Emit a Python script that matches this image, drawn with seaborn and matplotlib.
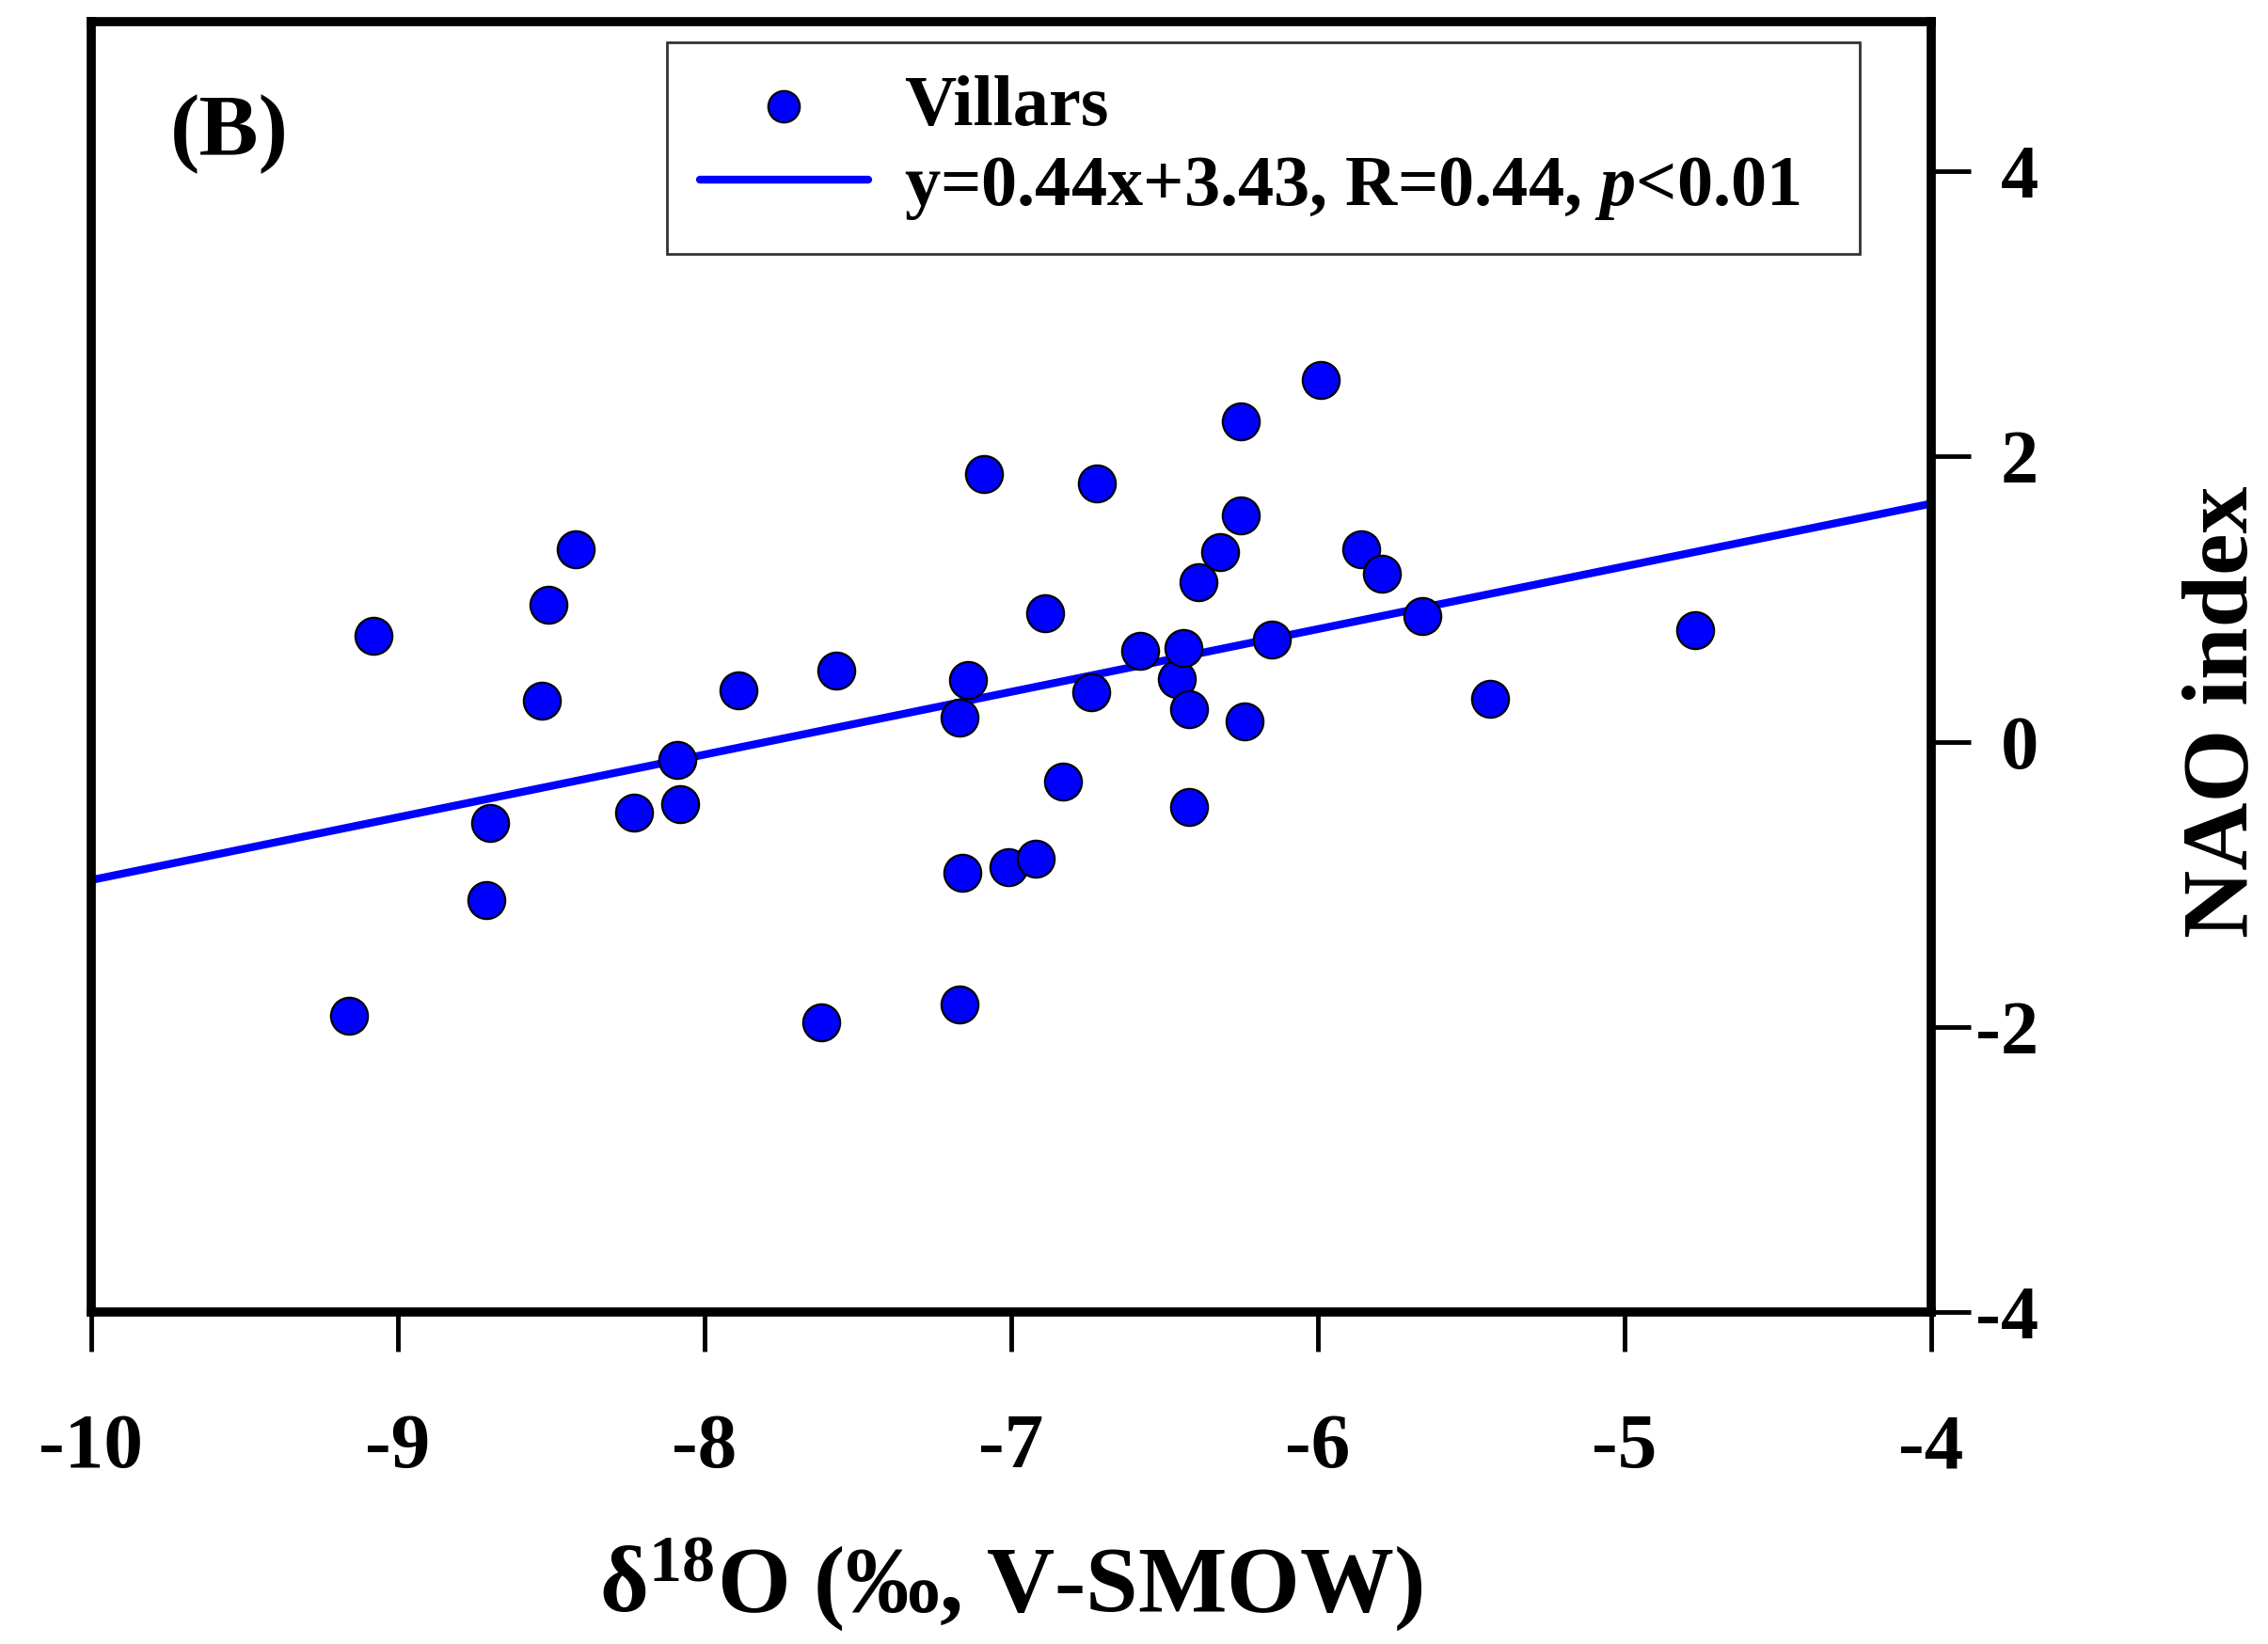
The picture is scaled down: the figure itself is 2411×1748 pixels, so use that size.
import numpy as np
import pandas as pd
import matplotlib
matplotlib.use("Agg")
import matplotlib.pyplot as plt
import seaborn as sns

# ---- data ----
d18O = [-9.16, -9.08, -8.70, -8.71, -8.53, -8.51, -8.42, -8.23, -8.09, -8.08,
        -7.89, -7.62, -7.57, -7.17, -7.17, -7.14, -7.16, -7.09, -7.01, -6.92,
        -6.89, -6.83, -6.74, -6.72, -6.58, -6.46, -6.44, -6.42, -6.42, -6.39,
        -6.32, -6.25, -6.25, -6.24, -6.15, -5.99, -5.86, -5.79, -5.66, -5.44,
        -4.77]
nao = [-1.92, 0.74, -0.57, -1.11, 0.29, 0.96, 1.35, -0.50, -0.13, -0.44,
       0.36, -1.97, 0.50, -1.84, 0.17, 0.43, -0.92, 1.88, -0.88, -0.82,
       0.90, -0.28, 0.35, 1.81, 0.64, 0.44, 0.66, 0.23, -0.46, 1.12,
       1.33, 2.25, 1.59, 0.14, 0.72, 2.54, 1.35, 1.18, 0.88, 0.30,
       0.78]
fit_slope = 0.44
fit_intercept = 3.43
fit_x = [-10, -4]
x_ticks = [-10, -9, -8, -7, -6, -5, -4]
y_ticks = [-4, -2, 0, 2, 4]
series_label = "Villars"
fit_label = "y=0.44x+3.43, R=0.44, $p$<0.01"
panel_label = "(B)"

sns.set_style("white")
plt.rcParams["font.family"] = ["Liberation Serif", "DejaVu Serif"]
plt.rcParams["font.weight"] = "bold"
plt.rcParams["text.color"] = "black"
plt.rcParams["axes.labelcolor"] = "black"
plt.rcParams["xtick.color"] = "black"
plt.rcParams["ytick.color"] = "black"
plt.rcParams["axes.unicode_minus"] = False
plt.rcParams["mathtext.fontset"] = "custom"
plt.rcParams["mathtext.rm"] = "Liberation Serif:bold"
plt.rcParams["mathtext.it"] = "Liberation Serif:italic:bold"
plt.rcParams["mathtext.bf"] = "Liberation Serif:bold"

df = pd.DataFrame({"d18O": d18O, "NAO": nao})
fit_df = pd.DataFrame({"x": fit_x,
                       "y": [fit_slope * v + fit_intercept for v in fit_x]})

fig = plt.figure(figsize=(24.11, 17.48), dpi=100)
ax = fig.add_axes([0.0402, 0.2019, 0.8113, 0.7849])

sns.lineplot(data=fit_df, x="x", y="y", ax=ax, color="#0000ff", linewidth=6,
             label=fit_label, zorder=2)
sns.scatterplot(data=df, x="d18O", y="NAO", ax=ax, s=800, color="#0000ff",
                edgecolor="black", linewidth=1.6, label=series_label, zorder=3)

ax.set_xlim(-10, -4)
ax.set_ylim(-4, 5.05)
ax.set_xticks(x_ticks)
ax.set_yticks(y_ticks)
ax.yaxis.tick_right()
ax.yaxis.set_label_position("right")

for s in ax.spines.values():
    s.set_linewidth(7)
    s.set_color("black")

ax.tick_params(axis="x", direction="out", length=30, width=3.5, pad=48,
               labelsize=60, bottom=True, top=False, colors="black")
ax.tick_params(axis="y", direction="out", length=30, width=3.5, pad=52,
               labelsize=58, right=True, left=False, labelright=True,
               labelleft=False, colors="black")
for lab in ax.get_yticklabels():
    lab.set_horizontalalignment("right")
    lab.set_fontweight("bold")
for lab in ax.get_xticklabels():
    lab.set_fontweight("bold")

ax.set_xlabel("δ$^{18}$O (‰, V-SMOW)", fontsize=72, fontweight="bold",
              labelpad=40)
ax.set_ylabel("NAO index", fontsize=72, fontweight="bold")
ax.yaxis.set_label_coords(1.136, 0.465)

ax.text(0.043, 0.913, panel_label, transform=ax.transAxes, fontsize=68,
        fontweight="bold", ha="left", va="center")

handles, labels = ax.get_legend_handles_labels()
order = [labels.index(series_label), labels.index(fit_label)]
leg = ax.legend([handles[i] for i in order], [labels[i] for i in order],
                loc="upper left", bbox_to_anchor=(0.313, 0.814, 0.648, 0.170),
                mode="expand", borderaxespad=0, fontsize=55, frameon=True,
                fancybox=False, handlelength=2.35, handletextpad=0.5,
                labelspacing=0.2, borderpad=0.45, markerscale=0.85)
leg.get_frame().set_edgecolor("black")
leg.get_frame().set_linewidth(2)
for t in leg.get_texts():
    t.set_fontweight("bold")
    t.set_color("black")

fig.savefig("out.png", dpi=100, facecolor="white")
